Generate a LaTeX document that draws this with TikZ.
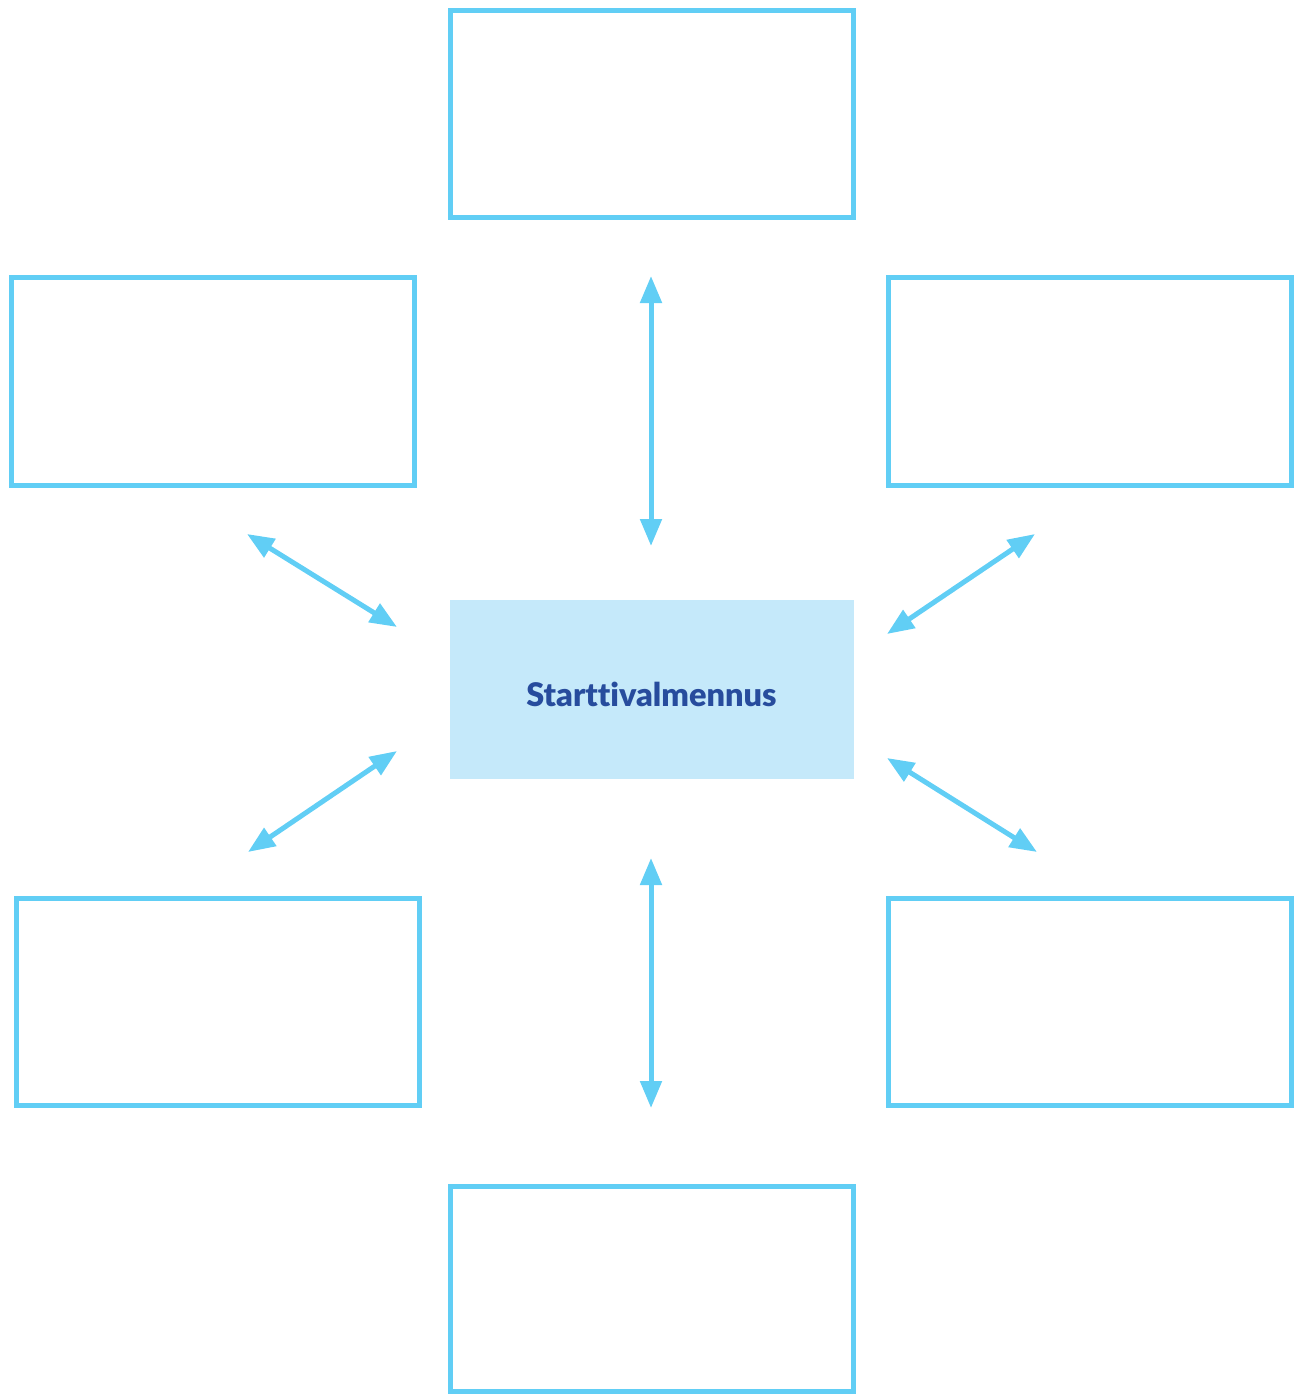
\documentclass[tikz,border=0pt]{standalone}
\usepackage{fontspec}
\setmainfont{Lato}
\newfontfamily\heavyfont{Lato Black}[Ligatures=NoCommon]
\usetikzlibrary{arrows.meta}
\definecolor{frame}{HTML}{61CEF5}
\definecolor{centerfill}{HTML}{C5E9FA}
\definecolor{textblue}{HTML}{274C9D}
\begin{document}
\begin{tikzpicture}[x=1pt,y=-1pt,
  emptybox/.style={draw=frame,line width=5pt,fill=white},
  link/.style={draw=frame,line width=5pt,{Triangle[width=21pt,length=27pt]}-{Triangle[width=21pt,length=27pt]}}]
\useasboundingbox (0,0) rectangle (1303,1394);
% boxes
\draw[emptybox] (450.5,10.5) rectangle (853.5,217.5) node[pos=.5] (top) {};
\draw[emptybox] (11.5,277.5) rectangle (414.5,485.5) node[pos=.5] (ul) {};
\draw[emptybox] (888.5,277.5) rectangle (1291.5,485.5) node[pos=.5] (ur) {};
\draw[emptybox] (16.5,898.5) rectangle (419.5,1105.5) node[pos=.5] (ll) {};
\draw[emptybox] (888.5,898.5) rectangle (1291.5,1105.5) node[pos=.5] (lr) {};
\draw[emptybox] (450.5,1186.5) rectangle (853.5,1391.5) node[pos=.5] (bot) {};
% centre
\node[fill=centerfill,minimum width=404pt,minimum height=179pt,inner sep=0pt] (c) at (652,689.5) {};
\node[text=textblue,font=\heavyfont\fontsize{32.5}{36}\selectfont,inner sep=0pt,anchor=base] (ctext) at (651.5,706) {Starttivalmennus};
% arrow endpoints
\coordinate (t1) at (651,276); \coordinate (t2) at (651,546);
\coordinate (b1) at (651,858); \coordinate (b2) at (651,1108);
\coordinate (a1) at (247,534); \coordinate (a2) at (397,627);
\coordinate (r1) at (1035,534); \coordinate (r2) at (887,634);
\coordinate (l1) at (397,751); \coordinate (l2) at (248,852);
\coordinate (s1) at (887,758); \coordinate (s2) at (1037,852);
\draw[link] (t1) -- (t2);
\draw[link] (b1) -- (b2);
\draw[link] (a1) -- (a2);
\draw[link] (r1) -- (r2);
\draw[link] (l1) -- (l2);
\draw[link] (s1) -- (s2);
\end{tikzpicture}
\end{document}
